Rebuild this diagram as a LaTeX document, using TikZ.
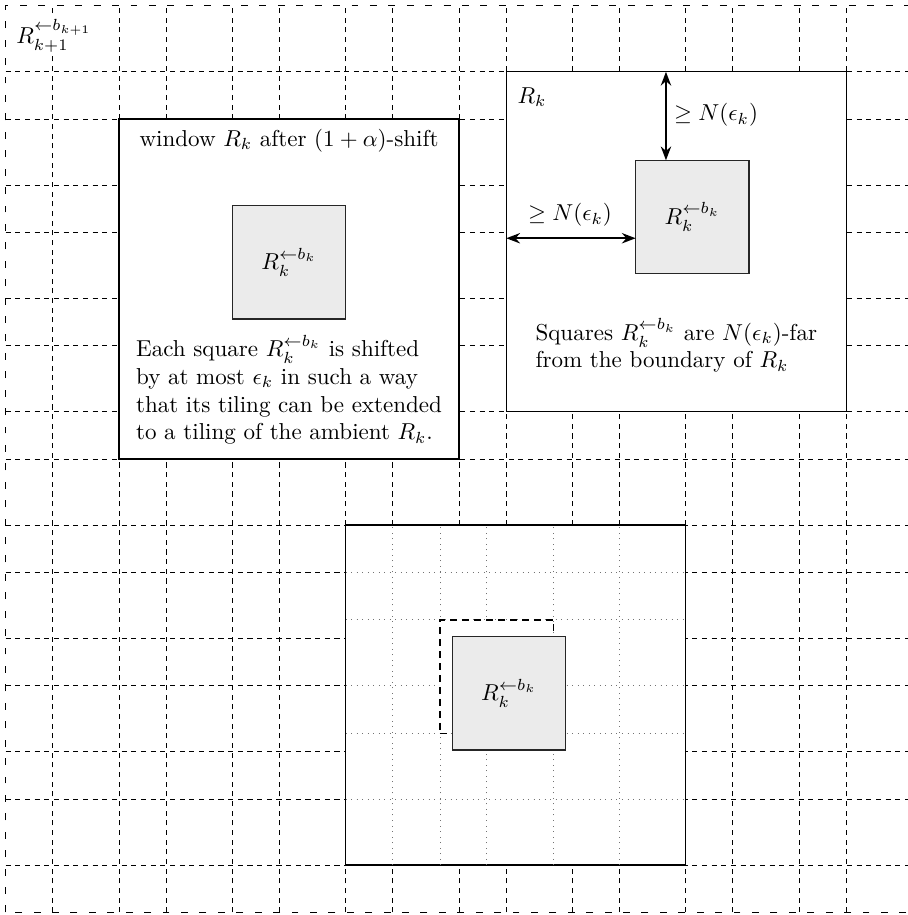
\documentclass[tikz,border=0pt]{standalone}
\usetikzlibrary{arrows.meta}
\newcommand\unitlen{1.73cm}
\begin{document}
\begin{tikzpicture}[x=\unitlen, y=\unitlen,
  gridline/.style={dash pattern=on 2.2pt off 2pt, line width=0.4pt},
  border/.style={dash pattern=on 3pt off 5pt, line width=0.5pt},
  winbox/.style={draw, fill=white, line width=0.6pt, minimum size={3*\unitlen}, inner sep=0pt, outer sep=0pt},
  sqbox/.style={draw=black!85, fill=black!8, line width=0.5pt, minimum size={\unitlen}, inner sep=0pt, outer sep=0pt},
  shadowbox/.style={draw, fill=white, dash pattern=on 3pt off 2.2pt, line width=0.5pt, minimum size={\unitlen}, inner sep=0pt, outer sep=0pt},
  tilegrid/.style={black!55, dotted, line width=0.4pt},
  dimarrow/.style={{Stealth[length=6pt,width=4.5pt]}-{Stealth[length=6pt,width=4.5pt]}, line width=0.8pt}]
\useasboundingbox (-0.0503,-0.0234) rectangle (7.9616,8.0503);
% ambient grid
\foreach \i in {1,...,7} {
  \draw[gridline] (\i,0) -- (\i,8);
  \draw[gridline] (0,\i) -- (8,\i);
}
\foreach \i in {0,...,7} {
  \draw[gridline] (\i+0.4167,0) -- (\i+0.4167,8);
  \draw[gridline] (0,\i+0.4167) -- (8,\i+0.4167);
}
\draw[border] (0,0) rectangle (8,8);
\node[fill=white, inner sep=1pt] (outerlbl) at (0.426,7.733) {$R_{k+1}^{\leftarrow b_{k+1}}$};

% window after shift
\node[winbox] (win) at (2.5,5.5) {};
\node[sqbox] (sq1) at (2.5,5.735) {$R_k^{\leftarrow b_k}$};
\node (wintitle) at (2.5,6.81) {window $R_k$ after $(1+\alpha)$-shift};
\node[align=left] (wintext) at (2.5,4.61) {Each square $R_k^{\leftarrow b_k}$ is shifted\\ by at most $\epsilon_k$ in such a way\\ that its tiling can be extended\\ to a tiling of the ambient $R_k$.};

% R_k with distances
\node[winbox] (rk) at (5.9167,5.9167) {};
\node (rklbl) at (4.644,7.194) {$R_k$};
\node[sqbox] (sq2) at (6.059,6.136) {$R_k^{\leftarrow b_k}$};
\coordinate (va) at (5.826,6.9);
\coordinate (ha) at (5.0,5.948);
\draw[dimarrow] (rk.north -| va) -- (sq2.north -| va);
\draw[dimarrow] (rk.west |- ha) -- (sq2.west |- ha);
\node (vlbl) at (6.268,7.035) {$\geq N(\epsilon_k)$};
\node (hlbl) at (4.979,6.153) {$\geq N(\epsilon_k)$};
\node[align=left] (rktext) at (5.917,5.0) {Squares $R_k^{\leftarrow b_k}$ are $N(\epsilon_k)$-far\\ from the boundary of $R_k$};

% bottom window with extended tiling
\node[winbox] (bot) at (4.5,1.9167) {};
\foreach \x in {3.4167,3.832,4.244,4.832,5.4167}
  \draw[tilegrid] (\x,0.4167) -- (\x,3.4167);
\foreach \y in {3,2.58,2,1.58,1}
  \draw[tilegrid] (3,\y) -- (6,\y);
\node[shadowbox] (shadow) at (4.332,2.08) {};
\node[sqbox] (sq3) at (4.44,1.932) {$R_k^{\leftarrow b_k}$};
\end{tikzpicture}
\end{document}
